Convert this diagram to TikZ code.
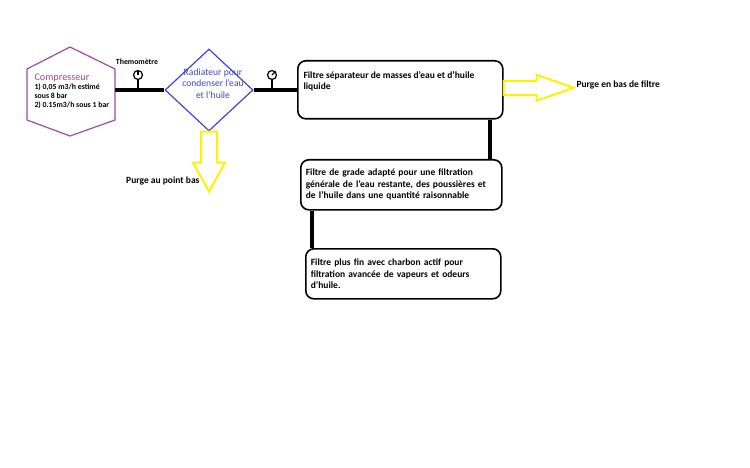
\documentclass[tikz,border=0pt]{standalone}
\usepackage{fontspec}
\setmainfont{Carlito}
\usetikzlibrary{shapes.geometric}
\definecolor{paintpurple}{RGB}{163,73,164}
\definecolor{paintblue}{RGB}{63,72,204}
\definecolor{paintyellow}{RGB}{255,242,0}

\begin{document}
\begin{tikzpicture}[x=1pt, y=-1pt,
	pipe/.style={line width=4pt},
	gauge/.style={circle, draw, line width=1.2pt, minimum size=9pt, inner sep=0pt},
	stem/.style={line width=1.2pt},
	purge/.style={draw=paintyellow, line width=2pt},
	txt/.style={font=\bfseries\fontsize{9.5}{11.5}\selectfont},
	note/.style={font=\bfseries\fontsize{7.8}{9}\selectfont},
	filtre/.style={draw, line width=1.6pt, rounded corners=8pt, anchor=north west,
		align=left, inner xsep=5pt, txt}]
	\useasboundingbox[fill=white] (0,0) rectangle (750,468);

	% compresseur
	\draw[paintpurple, line width=1.2pt] (70,47) -- (115,69) -- (115,120) -- (70,136)
		-- (27,120) -- (27,69) -- cycle;
	\coordinate (comp) at (115,90);
	\node[note, align=left, anchor=north west] (comptxt) at (31,70)
		{{\mdseries\fontsize{10.2}{11}\selectfont\color{paintpurple}Compresseur}\\
		1) 0,05 m3/h estimé\\sous 8 bar\\2) 0.15m3/h sous 1 bar};

	% radiateur
	\node[diamond, draw=paintblue, line width=1.2pt, minimum width=88pt,
		minimum height=82pt, inner sep=0pt] (rad) at (209,90) {};
	\node[font=\fontsize{9.6}{11.5}\selectfont, text=paintblue, align=center]
		(radtxt) at (213,83.5) {Radiateur pour\\condenser l'eau\\et l'huile};

	\draw[pipe] (comp) -- (rad.west);
	\node[gauge] (thermo) at (138,75) {};
	\draw[stem] (thermo.south) -- (thermo.south |- rad.west);
	\draw[stem] (thermo.center) -- (thermo.north);
	\node[note] (thermotxt) at (137,62) {Themomètre};

	\draw[purge] ([xshift=-8pt]rad.south) -- ++(0,31) -- ++(-8,0) -- ++(16,29)
		-- ++(16,-29) -- ++(-8,0) -- ++(0,-31) -- cycle;
	\node[txt, anchor=east] (purgebas) at (203,181) {Purge au point bas};

	% filtres
	\node[filtre, minimum width=205pt, minimum height=58pt] (sep) at (297,60) {};
	\node[txt, anchor=north west, align=left] (septxt) at (300,68)
		{Filtre séparateur de masses d'eau et d'huile\\liquide};
	\node[filtre, minimum width=201pt, minimum height=50pt, text width=191pt]
		(grade) at (300,159) {Filtre de grade adapté pour une filtration\\
		générale de l'eau restante, des poussières et\\
		de l'huile dans une quantité raisonnable};
	\node[filtre, minimum width=195pt, minimum height=50pt, text width=185pt]
		(fin) at (305,248) {Filtre plus fin avec charbon actif pour\\
		filtration avancée de vapeurs et odeurs\\d'huile.};

	\draw[pipe] (rad.east) -- (rad.east -| sep.west);
	\node[gauge] (mano) at (272,75) {};
	\draw[stem] (mano.south) -- (mano.south |- rad.east);
	\draw[stem] (mano.center) -- (mano.north east);

	\coordinate (v1) at ([xshift=-14pt]sep.south east);
	\draw[pipe] (v1) -- (v1 |- grade.north);
	\coordinate (v2) at ([xshift=12pt]grade.south west);
	\draw[pipe] (v2) -- (v2 |- fin.north);

	\draw[purge] ([yshift=9pt]sep.east) -- ++(33,0) -- ++(0,-6) -- ++(37,13)
		-- ++(-37,13) -- ++(0,-6) -- ++(-33,0) -- cycle;
	\node[txt, anchor=west] (purgefiltre) at (573,85) {Purge en bas de filtre};
\end{tikzpicture}
\end{document}
